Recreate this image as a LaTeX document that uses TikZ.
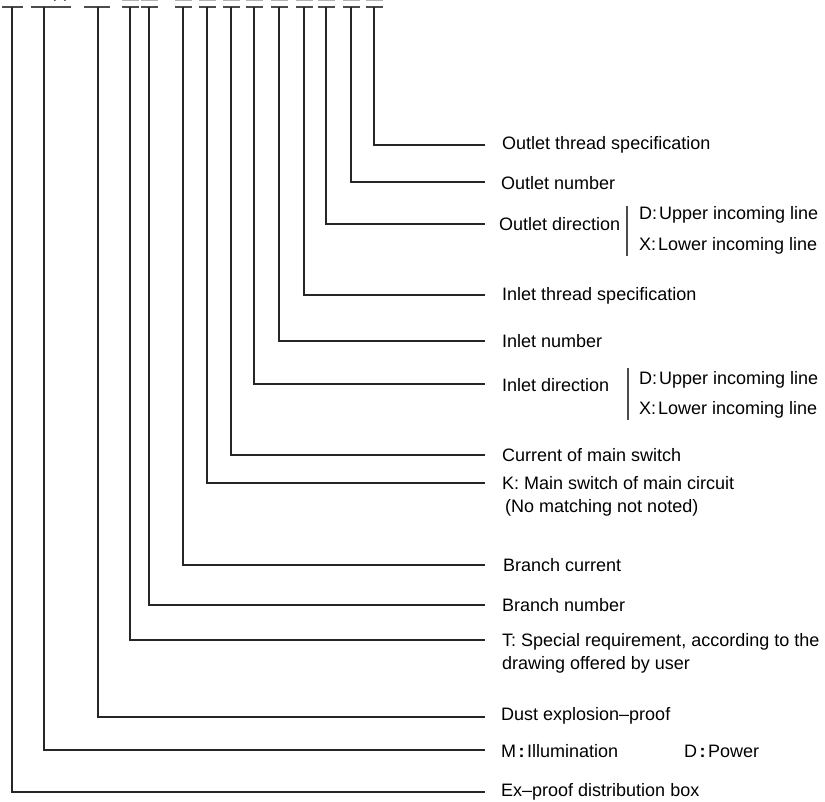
\documentclass[tikz,border=0pt]{standalone}
\usepackage{fontspec}
\setmainfont{Liberation Sans}
\begin{document}
\begin{tikzpicture}[x=1pt,y=-1pt,
  lbl/.style={anchor=west,inner sep=0pt,font=\fontsize{18}{23}\selectfont},
  lbl2/.style={anchor=north west,inner sep=0pt,align=left,font=\fontsize{18}{23.5}\selectfont},
  ln/.style={line width=1.1pt,draw=black!85},
  bar/.style={line width=1.1pt,draw=black!70},
  topbar/.style={line width=1.2pt,draw=black!30}]
\useasboundingbox (0,0) rectangle (825,802);
% top tee positions
\foreach \n/\x in {a/12,b/44,c/98,d/130,e/149,f/183,g/207,h/231,i/254,j/279,k/304,l/326,m/351,n/374}{
  \coordinate (t\n) at (\x,7);
}
% partial texts cut by the top edge
\node[inner sep=0pt,anchor=south,font=\fontsize{18}{23}\selectfont] (paren) at (60,1.8) {(\hspace{8pt})};
\foreach \x in {130,149,183,207,231,254,279,304,326,351,374}{
  \draw[topbar] (\x-8.5,0.6) -- (\x+8.5,0.6);
}
% tee bars
\draw[bar] (2,7) -- (23,7);
\draw[bar] (31,7) -- (71,7);
\draw[bar] (84,7) -- (110,7);
\foreach \x in {130,149,183,207,231,254,279,304,326,351,374}{
  \draw[bar] (\x-8.5,7) -- (\x+8.5,7);
}
% labels
\node[lbl] (Ln) at (502,145) {Outlet thread specification};
\node[lbl] (Lm) at (501,183) {Outlet number};
\node[lbl] (Ll) at (499,224) {Outlet direction};
\node[lbl] (LlD) at (639,215) {D:\hspace{2pt}Upper incoming line};
\node[lbl] (LlX) at (639,246) {X:\hspace{2pt}Lower incoming line};
\node[lbl] (Lk) at (502,296) {Inlet thread specification};
\node[lbl] (Lj) at (502,341) {Inlet number};
\node[lbl] (Li) at (502,385) {Inlet direction};
\node[lbl] (LiD) at (639,380) {D:\hspace{2pt}Upper incoming line};
\node[lbl] (LiX) at (639,410) {X:\hspace{2pt}Lower incoming line};
\node[lbl] (Lh) at (502,455) {Current of main switch};
\node[lbl2] (Lg) at (502,476) {K: Main switch of main circuit\\\hspace{3pt}(No matching not noted)};
\node[lbl] (Lf) at (503,565) {Branch current};
\node[lbl] (Le) at (502,605) {Branch number};
\node[lbl2] (Ld) at (502,633) {T: Special requirement, according to the\\drawing offered by user};
\node[lbl] (Lc) at (501,716) {Dust explosion–proof};
\node[lbl] (Lb) at (501,751) {M\hspace{2.5pt}\textbf{:}\hspace{2.5pt}Illumination};
\node[lbl] (Lb2) at (684,751) {D\hspace{2.5pt}\textbf{:}\hspace{2.5pt}Power};
\node[lbl] (La) at (501,792) {Ex–proof distribution box};
% separator bars
\draw[bar] (627,206) -- (627,256);
\draw[bar] (628,368) -- (628,420);
% line end coordinates
\foreach \n/\y in {n/145,m/182,l/224,k/295,j/341,i/384,h/455,g/483,f/565,e/605,d/640,c/717,b/750,a/792}{
  \coordinate (e\n) at (485,\y);
}
% connectors
\foreach \n in {a,b,c,d,e,f,g,h,i,j,k,l,m,n}{
  \draw[ln] (t\n) |- (e\n);
}
\end{tikzpicture}
\end{document}
